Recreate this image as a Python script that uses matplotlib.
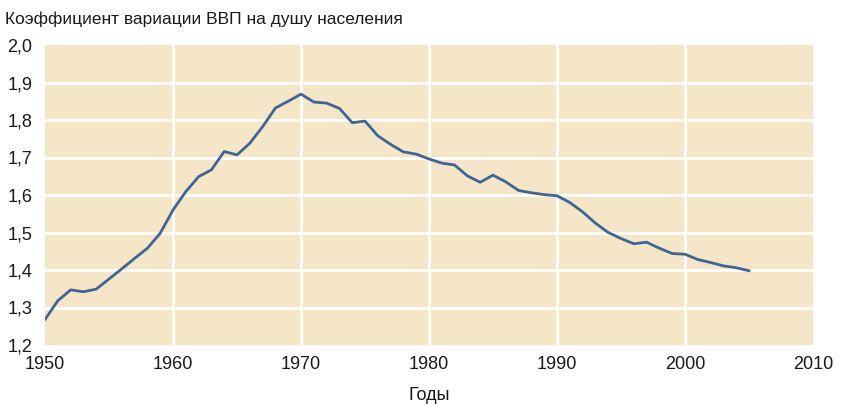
import matplotlib
matplotlib.use("Agg")
import matplotlib.pyplot as plt

plt.rcParams['font.family'] = ['Liberation Sans', 'DejaVu Sans']

# data
years = list(range(1950, 2006))
cv = [1.268, 1.318, 1.347, 1.342, 1.349, 1.376, 1.403, 1.431, 1.458, 1.498,
      1.560, 1.609, 1.649, 1.667, 1.716, 1.707, 1.738, 1.782, 1.832, 1.850,
      1.869, 1.848, 1.845, 1.831, 1.793, 1.797, 1.758, 1.735, 1.715, 1.709,
      1.696, 1.685, 1.680, 1.651, 1.634, 1.653, 1.635, 1.612, 1.606, 1.601,
      1.598, 1.580, 1.555, 1.525, 1.500, 1.484, 1.470, 1.474, 1.458, 1.444,
      1.442, 1.428, 1.420, 1.411, 1.406, 1.398]
xticks = [1950, 1960, 1970, 1980, 1990, 2000, 2010]
yticks = [1.2, 1.3, 1.4, 1.5, 1.6, 1.7, 1.8, 1.9, 2.0]
ylabels = [("%.1f" % v).replace(".", ",") for v in yticks]

fig = plt.figure(figsize=(8.49, 4.05), dpi=100)
ax = fig.add_axes([45/849, 1-345/405, 768/849, 300/405])
ax.set_facecolor('#f5e6c8')

ax.plot(years, cv, color='#3f6597', linewidth=2.0, zorder=3, solid_joinstyle='round')

ax.set_xlim(1950, 2010)
ax.set_ylim(1.2, 2.0)
ax.set_xticks(xticks)
ax.set_yticks(yticks)
ax.set_yticklabels(ylabels)
for v in xticks[1:-1]:
    ax.axvline(v, color='white', linewidth=2, zorder=1)
for v in yticks[1:-1]:
    ax.axhline(v, color='white', linewidth=2, zorder=1)

for s in ax.spines.values():
    s.set_visible(False)
ax.tick_params(length=0, labelsize=13, colors='#1a1a1a')
ax.tick_params(axis='x', pad=8)
ax.tick_params(axis='y', pad=9)

ax.set_xlabel('Годы', fontsize=13, color='#1a1a1a', labelpad=10)
fig.text(5/849, 1-19/405, 'Коэффициент вариации ВВП на душу населения',
         fontsize=12.5, color='#1a1a1a', va='center', ha='left')

fig.savefig('out.png', dpi=100)
